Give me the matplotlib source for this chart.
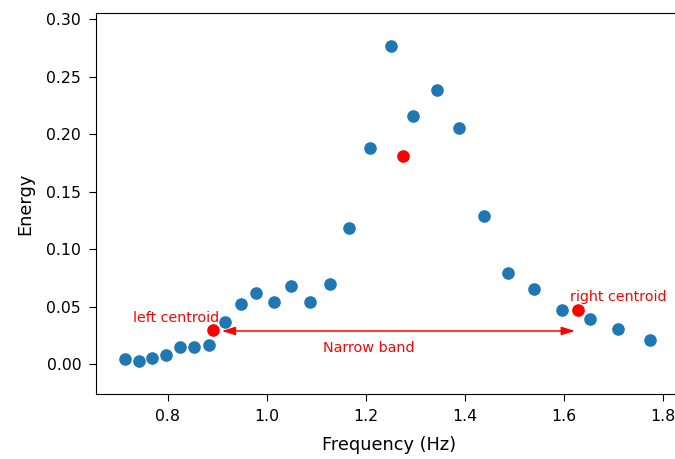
import numpy as np
import matplotlib.pyplot as plt

# spectrum samples
freq = [0.714, 0.743, 0.768, 0.797, 0.825, 0.853, 0.883, 0.916, 0.948, 0.978,
        1.014, 1.049, 1.088, 1.127, 1.166, 1.208, 1.251, 1.296, 1.343, 1.388,
        1.438, 1.487, 1.539, 1.596, 1.652, 1.708, 1.773]
energy = [0.0043, 0.0026, 0.0057, 0.0078, 0.0153, 0.0153, 0.0165, 0.0365, 0.0527, 0.0619,
          0.0544, 0.0680, 0.0544, 0.0698, 0.1182, 0.1882, 0.2763, 0.2155, 0.2383, 0.2050,
          0.1293, 0.0791, 0.0652, 0.0472, 0.0394, 0.0304, 0.0211]

# centroids (peak, left, right)
cent_freq = [1.275, 0.891, 1.628]
cent_energy = [0.1807, 0.0298, 0.0469]

band_y = 0.029
band_left, band_right = 0.909, 1.622

fig = plt.figure(figsize=(6.75, 4.59), dpi=100)
ax = fig.add_axes([0.1418, 0.141, 0.870, 0.830])

ax.scatter(freq, energy, s=65, color='#1f77b4', zorder=3)
ax.scatter(cent_freq, cent_energy, s=65, color='red', zorder=3)

ax.annotate('', xy=(band_right, band_y), xytext=(band_left, band_y),
            arrowprops=dict(arrowstyle='<|-|>,head_length=0.8,head_width=0.25',
                            color='red', lw=1.1, shrinkA=0, shrinkB=0))
ax.text(1.205, 0.011, 'Narrow band', color='red', fontsize=10.4, ha='center', va='baseline')
ax.text(0.817, 0.037, 'left centroid', color='red', fontsize=10.3, ha='center', va='baseline')
ax.text(1.710, 0.0553, 'right centroid', color='red', fontsize=10.3, ha='center', va='baseline')

ax.set_xlim(0.6547, 1.84)
ax.set_ylim(-0.026, 0.305)
ax.set_xticks([0.8, 1.0, 1.2, 1.4, 1.6, 1.8])
ax.set_yticks([0.0, 0.05, 0.10, 0.15, 0.20, 0.25, 0.30])
ax.tick_params(labelsize=11.3, length=5, pad=5.5)
ax.set_xlabel('Frequency (Hz)', fontsize=12.8, labelpad=8.5)
ax.set_ylabel('Energy', fontsize=12.8, labelpad=8.5)

fig.savefig('out.png', dpi=100)
